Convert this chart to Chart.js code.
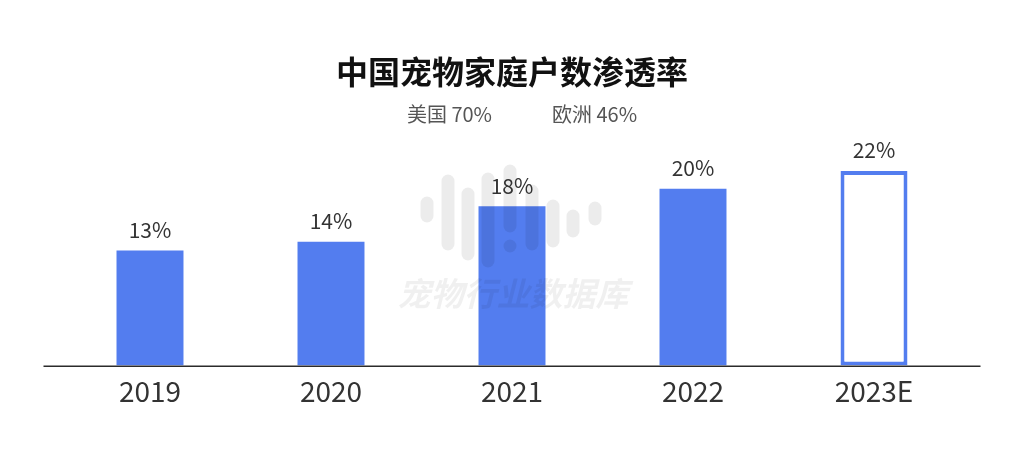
<!DOCTYPE html>
<html>
<head>
<meta charset="utf-8">
<script src="https://cdn.jsdelivr.net/npm/chart.js@4/dist/chart.umd.min.js"></script>
<style>
html,body{margin:0;padding:0;background:#fff;}
#wrap{width:1024px;height:469px;position:relative;}
</style>
</head>
<body>
<div id="wrap"><canvas id="c" width="1024" height="469"></canvas></div>
<script>
const categories = ['2019', '2020', '2021', '2022', '2023E'];
const penetration = [13, 14, 18, 20, 22];
const isEstimate = [false, false, false, false, true];
const chartTitle = '中国宠物家庭户数渗透率';
const subtitleText = '\u3000美国 70%\u3000\u3000\u3000欧洲 46%';

const FONT = '"Noto Sans CJK SC", "Noto Sans", sans-serif';
const BLUE = '#537DEF';

const baselinePlugin = {
  id: 'baseline',
  afterDatasetsDraw(chart) {
    const ctx = chart.ctx, a = chart.chartArea;
    ctx.save();
    ctx.strokeStyle = '#2b2b2b';
    ctx.lineWidth = 1.5;
    ctx.beginPath();
    ctx.moveTo(a.left - 16, a.bottom + 0.75);
    ctx.lineTo(a.right + 16, a.bottom + 0.75);
    ctx.stroke();
    ctx.restore();
  }
};

const valueLabelPlugin = {
  id: 'valueLabels',
  afterDatasetsDraw(chart) {
    const ctx = chart.ctx;
    const meta = chart.getDatasetMeta(0);
    ctx.save();
    ctx.font = '21px ' + FONT;
    ctx.fillStyle = '#333333';
    ctx.textAlign = 'center';
    ctx.textBaseline = 'bottom';
    meta.data.forEach((bar, i) => {
      ctx.fillText(penetration[i] + '%', bar.x, bar.y - 10);
    });
    ctx.restore();
  }
};

const watermarkPlugin = {
  id: 'watermark',
  afterDatasetsDraw(chart) {
    const ctx = chart.ctx;
    const cx = chart.width / 2;
    // decorative equalizer-like logo
    const segs = [[-85,197,222],[-64,175,250],[-44,188,260],[-24,173,267],[-2,165,232],[-2,240,252],[20,185,250],[41,200,247],[61,210,237],[83,202,225]];
    ctx.save();
    ctx.strokeStyle = 'rgba(0,0,0,0.075)';
    ctx.lineCap = 'round';
    ctx.lineWidth = 13;
    segs.forEach(s => {
      ctx.beginPath();
      ctx.moveTo(cx + s[0], s[1] + 6);
      ctx.lineTo(cx + s[0], s[2] - 6);
      ctx.stroke();
    });
    ctx.fillStyle = 'rgba(0,0,0,0.06)';
    ctx.font = 'italic bold 33px ' + FONT;
    ctx.textAlign = 'center';
    ctx.textBaseline = 'middle';
    ctx.fillText('宠物行业数据库', cx + 1, 293);
    ctx.restore();
  }
};

new Chart(document.getElementById('c'), {
  type: 'bar',
  data: {
    labels: categories,
    datasets: [{
      data: penetration,
      backgroundColor: isEstimate.map(e => e ? '#ffffff' : BLUE),
      borderColor: BLUE,
      borderWidth: isEstimate.map(e => e ? 4 : 0),
      borderSkipped: false,
      barPercentage: 0.37,
      categoryPercentage: 1
    }]
  },
  options: {
    responsive: false,
    animation: false,
    layout: { padding: { left: 59.5, right: 59.5, top: 0, bottom: 52.5 } },
    plugins: {
      legend: { display: false },
      tooltip: { enabled: false },
      title: {
        display: true,
        text: chartTitle,
        color: '#111111',
        font: { family: FONT, size: 32, weight: 'bold' },
        padding: { top: 52.8, bottom: 10.8 }
      },
      subtitle: {
        display: true,
        text: subtitleText,
        color: '#555555',
        font: { family: FONT, size: 20 },
        padding: { top: 0, bottom: 14 }
      }
    },
    scales: {
      x: {
        offset: true,
        grid: { display: false, drawTicks: false },
        border: { display: false },
        ticks: { color: '#333333', font: { family: FONT, size: 28 }, padding: 8.7 }
      },
      y: {
        display: false,
        min: 0,
        max: 25.5
      }
    }
  },
  plugins: [watermarkPlugin, baselinePlugin, valueLabelPlugin]
});
</script>
</body>
</html>
